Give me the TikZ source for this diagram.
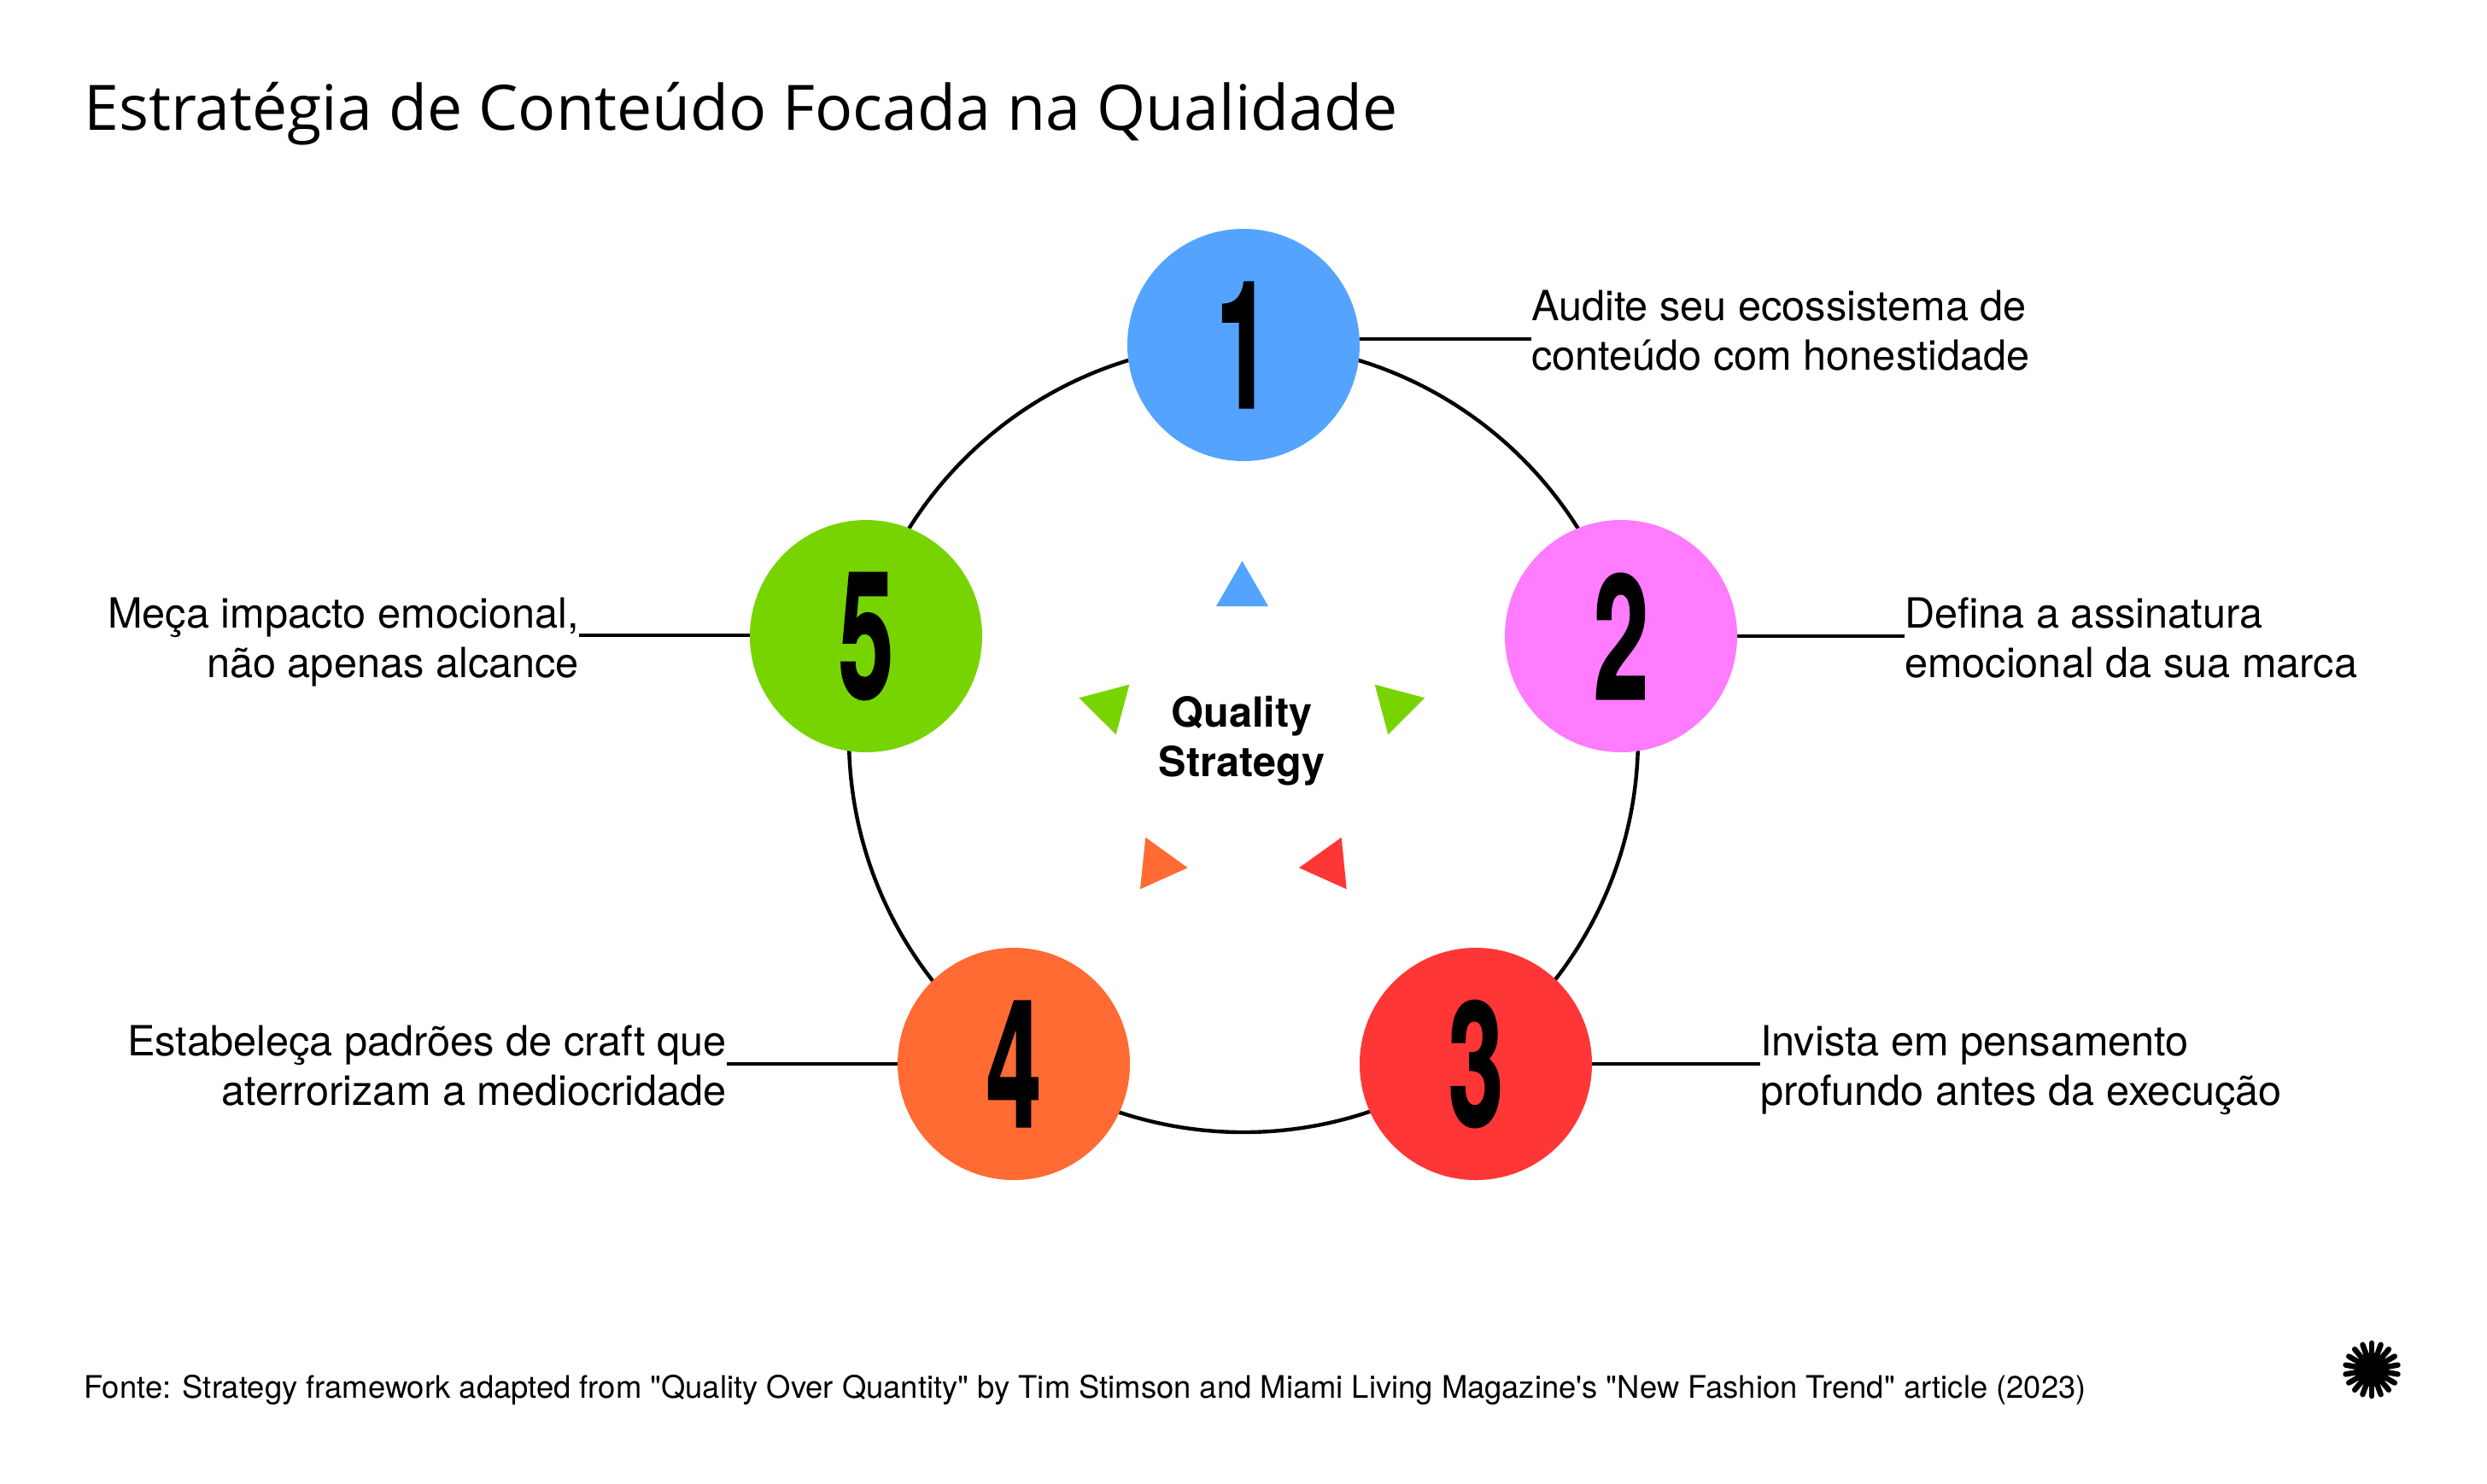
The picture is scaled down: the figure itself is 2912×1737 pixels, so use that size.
\documentclass[tikz,border=0pt]{standalone}
\usepackage{fontspec}
\usepackage{graphicx}
\setmainfont{TeX Gyre Heros}[Ligatures=TeXOff]
\newfontfamily\titlefont{Open Sans}
\newfontfamily\numfont[FakeBold=1.5]{TeX Gyre Heros Bold}
\definecolor{cblue}{HTML}{54A4FF}
\definecolor{cpink}{HTML}{FF7BFF}
\definecolor{cred}{HTML}{FF3636}
\definecolor{corange}{HTML}{FF6B33}
\definecolor{cgreen}{HTML}{78D400}
\tikzset{
  stepnode/.style={circle,minimum size=136pt,inner sep=0pt,outer sep=0pt,fill=#1},
  wire/.style={line width=2.2pt,black},
  labelr/.style={anchor=west,align=left,inner sep=0pt,outer sep=0pt,font=\fontsize{24.35}{29}\selectfont},
  labell/.style={anchor=east,align=right,inner sep=0pt,outer sep=0pt,font=\fontsize{24.35}{29}\selectfont},
  tri/.style={fill=#1,draw=none},
}
\newcommand{\bignum}[1]{\resizebox{32pt}{73pt}{\numfont #1}}
\begin{document}
\begin{tikzpicture}[x=0.5pt,y=-0.5pt]
\useasboundingbox[fill=white] (0,0) rectangle (2912,1737);
\node[anchor=base west,inner sep=0pt,font=\fontsize{36.7}{44}\selectfont\titlefont] (title) at (98,152) {Estratégia de Conteúdo Focada na Qualidade};
% ring
\node[circle,draw,line width=2.2pt,minimum size=462pt,inner sep=0pt] (ring) at (1456,864) {};
% end coordinates of the leader lines
\coordinate (c1) at (1793,397);
\coordinate (c2) at (2230,745);
\coordinate (c3) at (2061,1246);
\coordinate (c4) at (851,1246);
\coordinate (c5) at (678,744);
% step circles positions
\coordinate (p1) at (1456,404);
\coordinate (p2) at (1898,745);
\coordinate (p3) at (1728,1246);
\coordinate (p4) at (1187,1246);
\coordinate (p5) at (1014,745);
\draw[wire] (p1 |- c1) -- (c1);
\draw[wire] (p2 |- c2) -- (c2);
\draw[wire] (p3 |- c3) -- (c3);
\draw[wire] (p4 |- c4) -- (c4);
\draw[wire] (p5 |- c5) -- (c5);
\node[stepnode=cblue] (n1) at (p1) {\bignum{1}};
\node[stepnode=cpink] (n2) at (p2) {\bignum{2}};
\node[stepnode=cred] (n3) at (p3) {\bignum{3}};
\node[stepnode=corange] (n4) at (p4) {\bignum{4}};
\node[stepnode=cgreen] (n5) at (p5) {\bignum{5}};
\node[labelr] (l1) at (1793,387) {Audite seu ecossistema de\\conteúdo com honestidade};
\node[labelr] (l2) at (2230,747) {Defina a assinatura\\emocional da sua marca};
\node[labelr] (l3) at (2061,1253) {Invista em pensamento\\profundo antes da execução};
\node[labell] (l4) at (851,1248) {Estabeleça padrões de craft que\\aterrorizam a mediocridade};
\node[labell] (l5) at (678,752) {Meça impacto emocional,\\não apenas alcance};
% centre
\node[align=center,inner sep=0pt,font=\fontsize{24.3}{29}\selectfont\bfseries] (centre) at (1454,868) {Quality\\Strategy};
\fill[tri=cblue] (1454.5,657) -- (1424,710) -- (1485,710) -- cycle;
\fill[tri=cgreen] (1609.7,801.7) -- (1668.3,817.3) -- (1625.3,860.3) -- cycle;
\fill[tri=cgreen] (1322.3,801.7) -- (1263.3,817.3) -- (1306.7,860.3) -- cycle;
\fill[tri=corange] (1341.3,980.7) -- (1390.7,1016.3) -- (1335,1041.3) -- cycle;
\fill[tri=cred] (1570.7,980.7) -- (1521,1016.3) -- (1576.7,1041.3) -- cycle;
% footer
\node[anchor=base west,inner sep=0pt,font=\fontsize{18.2}{22}\selectfont] (foot) at (98,1637) {Fonte: Strategy framework adapted from "Quality Over Quantity" by Tim Stimson and Miami Living Magazine's "New Fashion Trend" article (2023)};
% logo
\fill (2777,1604) circle (20);
\foreach \a in {0,20,...,340}
  \draw[line width=3.2pt,line cap=round] (2777,1604) -- ({2777+31*cos(\a+10)},{1604+31*sin(\a+10)});
\end{tikzpicture}
\end{document}
